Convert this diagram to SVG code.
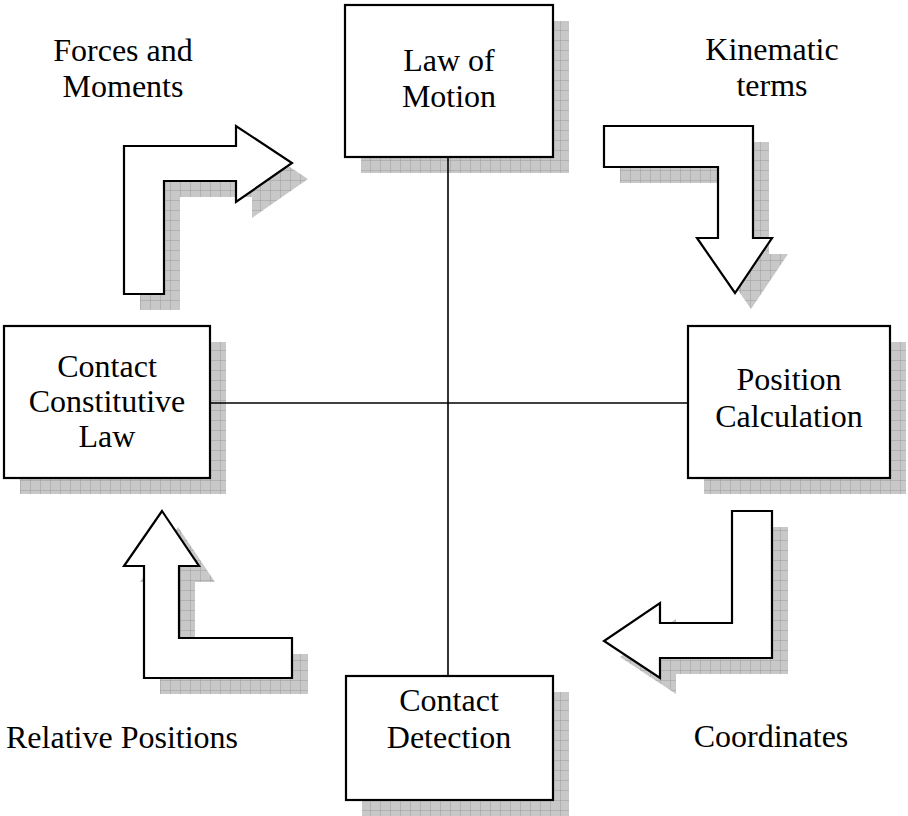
<svg xmlns="http://www.w3.org/2000/svg" width="908" height="816" viewBox="0 0 908 816">
<style>
.box{fill:#fff;stroke:#000;stroke-width:2.2}
.sh{fill:url(#grid)}
.t{font-family:"Liberation Serif","Times New Roman",serif;font-size:32px;fill:#000;text-anchor:middle}
.c{stroke:#000;stroke-width:1.6;fill:none}
</style>
<defs>
<pattern id="grid" patternUnits="userSpaceOnUse" width="10" height="10">
<rect width="10" height="10" fill="#c8c8c8"/>
<path d="M0 0H10M0 0V10" stroke="#9c9c9c" stroke-width="1"/>
</pattern>
</defs>
<rect width="908" height="816" fill="#fff"/>
<g id="law-of-motion">
<rect class="sh" x="361" y="21" width="208" height="152"/>
<rect class="box" x="345" y="5" width="208" height="152"/>
<text class="t" x="449" y="71">Law of</text>
<text class="t" x="449" y="107">Motion</text>
</g>
<g id="contact-constitutive-law">
<rect class="sh" x="20" y="342" width="206" height="152"/>
<rect class="box" x="4" y="326" width="206" height="152"/>
<text class="t" x="107" y="377">Contact</text>
<text class="t" x="107" y="412">Constitutive</text>
<text class="t" x="107" y="447">Law</text>
</g>
<g id="position-calculation">
<rect class="sh" x="704" y="342" width="202" height="152"/>
<rect class="box" x="688" y="326" width="202" height="152"/>
<text class="t" x="789" y="390">Position</text>
<text class="t" x="789" y="427">Calculation</text>
</g>
<g id="contact-detection">
<rect class="sh" x="362" y="692" width="207" height="124"/>
<rect class="box" x="346" y="676" width="207" height="124"/>
<text class="t" x="449" y="711">Contact</text>
<text class="t" x="449" y="748">Detection</text>
</g>
<g id="arrow-forces">
<polygon class="sh" points="140,162 252,162 252,142 308,179 252,218 252,197 180,197 180,310 140,310"/>
<polygon class="box" points="124,146 236,146 236,126 292,163 236,202 236,181 164,181 164,294 124,294"/>
</g>
<g id="arrow-kinematic">
<polygon class="sh" points="620,142 769,142 769,254 788,254 751,309 713,254 734,254 734,183 620,183"/>
<polygon class="box" points="604,126 753,126 753,238 772,238 735,293 697,238 718,238 718,167 604,167"/>
</g>
<g id="arrow-coordinates">
<polygon class="sh" points="748,527 788,527 788,674 676,674 676,694 620,657 676,619 676,639 748,639"/>
<polygon class="box" points="732,511 772,511 772,658 660,658 660,678 604,641 660,603 660,623 732,623"/>
</g>
<g id="arrow-relative">
<polygon class="sh" points="178,527 215,582 195,582 195,654 308,654 308,694 160,694 160,582 140,582"/>
<polygon class="box" points="162,511 199,566 179,566 179,638 292,638 292,678 144,678 144,566 124,566"/>
</g>
<g id="labels">
<text class="t" x="123" y="61">Forces and</text>
<text class="t" x="123" y="97">Moments</text>
<text class="t" x="772" y="60">Kinematic</text>
<text class="t" x="772" y="96">terms</text>
<text class="t" x="122" y="748">Relative Positions</text>
<text class="t" x="771" y="747">Coordinates</text>
</g>
<g id="connectors">
<line class="c" x1="448" y1="157" x2="448" y2="676"/>
<line class="c" x1="210" y1="403" x2="688" y2="403"/>
</g>
</svg>
